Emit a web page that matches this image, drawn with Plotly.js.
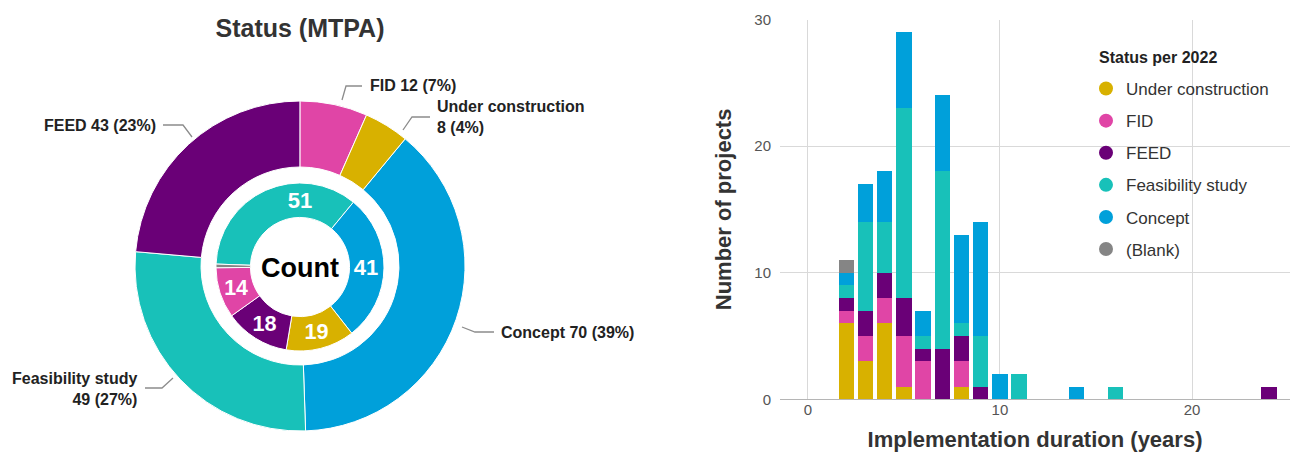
<!DOCTYPE html>
<html>
<head>
<meta charset="utf-8">
<script src="https://cdn.plot.ly/plotly-3.0.1.min.js"></script>
<style>html,body{margin:0;padding:0;background:#fff;}#chart{width:1290px;height:452px;}</style>
</head>
<body>
<div id="chart"></div>
<script>
// ---------- data ----------
const categories = ['Under construction', 'FID', 'FEED', 'Feasibility study', 'Concept', '(Blank)'];
const colors = ['#D8B100', '#E045A6', '#6A0077', '#18C1B9', '#00A0DA', '#858585'];

// Outer ring: capacity (MTPA) per status, with shown percentages
const mtpaValues = [8, 12, 43, 49, 70];
const mtpaPercents = [4, 7, 23, 27, 39];

// Inner ring: project count per status
const countValues = [19, 14, 18, 51, 41, 1];

// Bar chart: number of projects per implementation duration (years)
const durations = [2, 3, 4, 5, 6, 7, 8, 9, 10, 11, 14, 16, 24];
const underConstruction = [6, 3, 6, 1, 0, 0, 1, 0, 0, 0, 0, 0, 0];
const fid = [1, 2, 2, 4, 3, 0, 2, 0, 0, 0, 0, 0, 0];
const feed = [1, 2, 2, 3, 1, 4, 2, 1, 0, 0, 0, 0, 1];
const feasibility = [1, 7, 4, 15, 1, 14, 1, 4, 0, 2, 0, 1, 0];
const concept = [1, 3, 4, 6, 2, 6, 7, 9, 2, 0, 1, 0, 0];
const blank = [1, 0, 0, 0, 0, 0, 0, 0, 0, 0, 0, 0, 0];
const barSeries = [underConstruction, fid, feed, feasibility, concept, blank];

// ---------- helpers ----------
const W = 1290, H = 452;
const px = x => x / W;
const py = y => 1 - y / H;
const FONT = 'Liberation Sans, Arial, sans-serif';

// ---------- traces ----------
const traces = [];

traces.push({
  type: 'pie', hole: 0.6, sort: true, direction: 'clockwise', rotation: 39.6,
  labels: categories.slice(0, 5), values: mtpaValues,
  marker: { colors: colors.slice(0, 5), line: { color: '#ffffff', width: 1 } },
  textinfo: 'none', hoverinfo: 'label+value', showlegend: false,
  domain: { x: [px(135), px(465)], y: [py(431), py(101)] }
});

traces.push({
  type: 'pie', hole: 0.59, sort: true, direction: 'clockwise', rotation: 272,
  labels: categories, values: countValues,
  text: countValues.map((v, i) => categories[i] === '(Blank)' ? '' : String(v)),
  textinfo: 'text', textposition: 'inside', insidetextorientation: 'horizontal',
  textfont: { family: FONT, size: 22, color: '#ffffff', weight: 'bold' },
  marker: { colors: colors, line: { color: '#ffffff', width: 1 } },
  hoverinfo: 'label+value', showlegend: false,
  domain: { x: [px(300 - 84), px(300 + 84)], y: [py(267 + 84), py(267 - 84)] }
});

barSeries.forEach((vals, i) => {
  traces.push({
    type: 'bar', x: durations, y: vals, name: categories[i],
    marker: { color: colors[i] }, width: 0.8, showlegend: false,
    xaxis: 'x', yaxis: 'y'
  });
});

categories.forEach((c, i) => {
  traces.push({
    type: 'scatter', mode: 'markers', x: [null], y: [null], name: c,
    legendgroup: 'g' + i,
    marker: { color: colors[i], size: 14, symbol: 'circle' },
    xaxis: 'x', yaxis: 'y', hoverinfo: 'skip'
  });
});

// ---------- outer labels ----------
const wrap = [true, false, false, true, false];
const labelPos = [
  { x: 435, y: 117, xa: 'left', align: 'left' },
  { x: 368, y: 86, xa: 'left', align: 'left' },
  { x: 158, y: 125, xa: 'right', align: 'right' },
  { x: 139, y: 389, xa: 'right', align: 'right' },
  { x: 499, y: 332, xa: 'left', align: 'left' }
];
const annotations = mtpaValues.map((v, i) => ({
  xref: 'paper', yref: 'paper', x: px(labelPos[i].x), y: py(labelPos[i].y),
  xanchor: labelPos[i].xa, yanchor: 'middle', align: labelPos[i].align,
  showarrow: false,
  text: '<b>' + categories[i] + (wrap[i] ? '<br>' : ' ') + v + ' (' + mtpaPercents[i] + '%)</b>',
  font: { family: FONT, size: 16, color: '#222222' }
}));
annotations.push({
  xref: 'paper', yref: 'paper', x: px(300), y: py(268), xanchor: 'center', yanchor: 'middle',
  showarrow: false, text: '<b>Count</b>', font: { family: FONT, size: 27, color: '#000000' }
});
annotations.push({
  xref: 'paper', yref: 'paper', x: px(1097), y: py(57), xanchor: 'left', yanchor: 'middle',
  showarrow: false, text: '<b>Status per 2022</b>', font: { family: FONT, size: 16, color: '#222222' }
});

const leaders = [
  [[403, 130], [412, 117], [430, 117]],
  [[342, 100], [346, 86], [362, 86]],
  [[192, 137], [183, 125], [163, 125]],
  [[173, 378], [162, 388], [145, 388]],
  [[462, 327], [475, 332], [494, 332]]
];
const shapes = leaders.map(pts => ({
  type: 'path', xref: 'paper', yref: 'paper',
  path: pts.map((p, j) => (j ? 'L' : 'M') + px(p[0]) + ',' + py(p[1])).join(' '),
  line: { color: '#8c8c8c', width: 1.3 }
}));

// ---------- layout ----------
const layout = {
  width: W, height: H,
  margin: { l: 0, r: 0, t: 0, b: 0 },
  paper_bgcolor: '#ffffff', plot_bgcolor: '#ffffff',
  font: { family: FONT, color: '#333333' },
  title: {
    text: '<b>Status (MTPA)</b>', x: px(300), xanchor: 'center', xref: 'paper',
    y: py(28), yanchor: 'middle', yref: 'container',
    font: { family: FONT, size: 25, color: '#333333' }
  },
  barmode: 'stack',
  xaxis: {
    domain: [px(780), 1], range: [-1.45, 25.1], dtick: 10, tick0: 0,
    showgrid: true, gridcolor: '#d9d9d9', gridwidth: 1, zeroline: false,
    showline: false, ticks: '', tickfont: { family: FONT, size: 15, color: '#555555' },
    title: { text: '<b>Implementation duration (years)</b>', font: { family: FONT, size: 22, color: '#333333' }, standoff: 14 },
    fixedrange: true
  },
  yaxis: {
    domain: [py(399.3), py(19.5)], range: [0, 30], dtick: 10, tick0: 0,
    showgrid: true, gridcolor: '#d9d9d9', gridwidth: 1,
    zeroline: true, zerolinecolor: '#b5b5b5', zerolinewidth: 1.5,
    ticks: '', tickfont: { family: FONT, size: 15, color: '#555555' },
    ticklabelstandoff: 8,
    title: { text: '<b>Number of projects</b>', font: { family: FONT, size: 22, color: '#333333' }, standoff: 16 },
    fixedrange: true
  },
  legend: {
    x: px(1086), y: py(71), xanchor: 'left', yanchor: 'top',
    bgcolor: 'rgba(255,255,255,0)', traceorder: 'grouped', tracegroupgap: 7,
    itemwidth: 30,
    font: { family: FONT, size: 17, color: '#333333' }
  },
  annotations: annotations,
  shapes: shapes
};

Plotly.newPlot('chart', traces, layout, { displayModeBar: false, staticPlot: true });
</script>
</body>
</html>
